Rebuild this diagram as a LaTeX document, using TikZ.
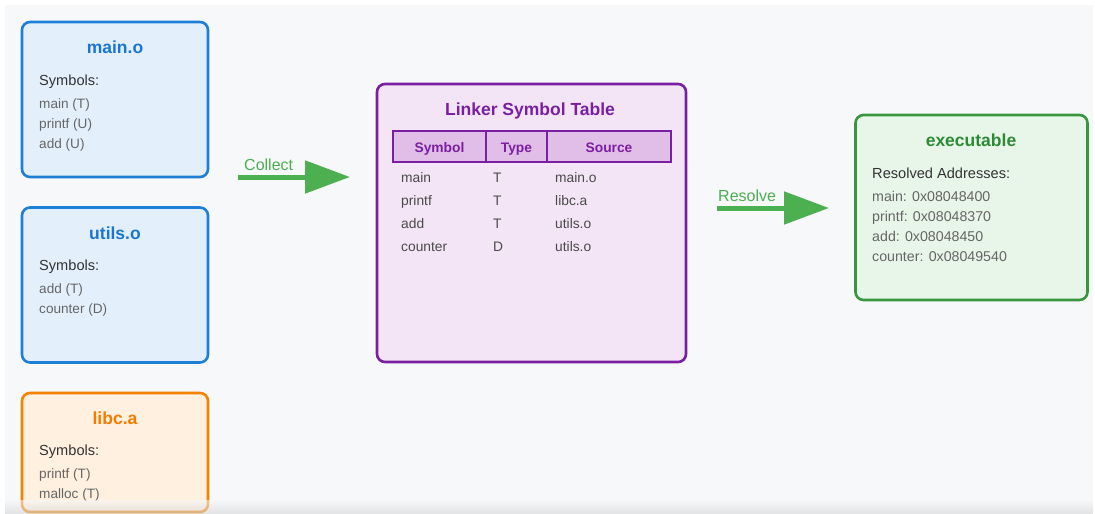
\documentclass[tikz,border=0pt]{standalone}
\usepackage{fontspec}
\setmainfont{Liberation Sans}
\usetikzlibrary{arrows.meta}

\definecolor{panel}{HTML}{F7F8FA}
\definecolor{blueline}{HTML}{1E7FD8}
\definecolor{bluefill}{HTML}{E3F0FC}
\definecolor{bluetext}{HTML}{1976D2}
\definecolor{orangeline}{HTML}{F58300}
\definecolor{orangefill}{HTML}{FFF0E0}
\definecolor{orangetext}{HTML}{F57C00}
\definecolor{purpleline}{HTML}{7B1FA2}
\definecolor{purplefill}{HTML}{F3E5F5}
\definecolor{purplehead}{HTML}{E1BEE7}
\definecolor{purpletext}{HTML}{7B1FA2}
\definecolor{greenline}{HTML}{38963E}
\definecolor{greenfill}{HTML}{E8F5E9}
\definecolor{greentext}{HTML}{2E8B35}
\definecolor{arrowgreen}{HTML}{4CAF50}
\definecolor{labeltext}{HTML}{333333}
\definecolor{itemtext}{HTML}{666666}
\definecolor{rowtext}{HTML}{4A4A4A}

\tikzset{
  card/.style={draw, line width=2.6pt, rounded corners=8pt, inner sep=0pt},
  txt/.style={inner sep=0pt},
  boxtitle/.style={txt, anchor=base, font=\fontsize{17.5}{20}\selectfont\bfseries},
  seclabel/.style={txt, anchor=base west, text=labeltext, font=\fontsize{14.6}{17}\selectfont},
  itemlabel/.style={txt, anchor=base west, text=itemtext, font=\fontsize{13.6}{16}\selectfont},
  addrlabel/.style={txt, anchor=base west, text=itemtext, font=\fontsize{14.2}{16}\selectfont},
  rowlabel/.style={txt, anchor=base west, text=rowtext, font=\fontsize{13.8}{16}\selectfont},
  headcell/.style={draw=purpleline, fill=purplehead, line width=1.4pt, inner sep=0pt, minimum height=31pt},
  headlabel/.style={txt, anchor=base, text=purpletext, font=\fontsize{13.8}{16}\selectfont\bfseries},
  flow/.style={draw=arrowgreen, line width=5pt, -{Triangle[length=45pt,width=32pt]}},
  flowlabel/.style={txt, anchor=base west, text=arrowgreen, font=\fontsize{16}{18}\selectfont},
}

\begin{document}
\begin{tikzpicture}[x=1pt, y=-1pt]
\useasboundingbox (0,0) rectangle (1095,514);
% page panel
\fill[panel] (5,5) rectangle (1093,514);

% ---------- input object files ----------
\node[card, draw=blueline, fill=bluefill, minimum width=186pt, minimum height=155pt] (main) at (115,99.5) {};
\node[boxtitle, text=bluetext] (main-title) at (115,53.5) {main.o};
\node[seclabel] (main-sym) at (39,85) {Symbols:};
\node[itemlabel] (main-s1) at (39,108) {main (T)};
\node[itemlabel] (main-s2) at (39,128) {printf (U)};
\node[itemlabel] (main-s3) at (39,148) {add (U)};

\node[card, draw=blueline, fill=bluefill, minimum width=186pt, minimum height=155pt] (utils) at (115,285) {};
\node[boxtitle, text=bluetext] (utils-title) at (115,239) {utils.o};
\node[seclabel] (utils-sym) at (39,270) {Symbols:};
\node[itemlabel] (utils-s1) at (39,293) {add (T)};
\node[itemlabel] (utils-s2) at (39,313) {counter (D)};

\node[card, draw=orangeline, fill=orangefill, minimum width=186pt, minimum height=119pt] (libc) at (115,452.5) {};
\node[boxtitle, text=orangetext] (libc-title) at (115,424) {libc.a};
\node[seclabel] (libc-sym) at (39,455) {Symbols:};
\node[itemlabel] (libc-s1) at (39,478) {printf (T)};
\node[itemlabel] (libc-s2) at (39,498) {malloc (T)};

% ---------- linker symbol table ----------
\node[card, draw=purpleline, fill=purplefill, minimum width=309pt, minimum height=278pt] (table) at (531.5,223) {};
\node[boxtitle, text=purpletext] (table-title) at (530,115) {Linker Symbol Table};
\node[headcell, minimum width=93pt] (h-sym) at (439.5,146.5) {};
\node[headcell, minimum width=61pt] (h-type) at (516.5,146.5) {};
\node[headcell, minimum width=124pt] (h-src) at (609,146.5) {};
\node[headlabel] (h-sym-t) at (439.5,152) {Symbol};
\node[headlabel] (h-type-t) at (516.5,152) {Type};
\node[headlabel] (h-src-t) at (609,152) {Source};

\node[rowlabel] (r1a) at (401,182) {main};
\node[rowlabel] (r1b) at (493,182) {T};
\node[rowlabel] (r1c) at (555,182) {main.o};
\node[rowlabel] (r2a) at (401,205) {printf};
\node[rowlabel] (r2b) at (493,205) {T};
\node[rowlabel] (r2c) at (555,205) {libc.a};
\node[rowlabel] (r3a) at (401,228) {add};
\node[rowlabel] (r3b) at (493,228) {T};
\node[rowlabel] (r3c) at (555,228) {utils.o};
\node[rowlabel] (r4a) at (401,251) {counter};
\node[rowlabel] (r4b) at (493,251) {D};
\node[rowlabel] (r4c) at (555,251) {utils.o};

% ---------- output executable ----------
\node[card, draw=greenline, fill=greenfill, minimum width=232pt, minimum height=185pt] (exe) at (971.5,207.5) {};
\node[boxtitle, text=greentext] (exe-title) at (971,146) {executable};
\node[seclabel] (exe-sec) at (872,178) {Resolved Addresses:};
\node[addrlabel] (exe-a1) at (872,201) {main: 0x08048400};
\node[addrlabel] (exe-a2) at (872,221) {printf: 0x08048370};
\node[addrlabel] (exe-a3) at (872,241) {add: 0x08048450};
\node[addrlabel] (exe-a4) at (872,261) {counter: 0x08049540};

% ---------- flow arrows ----------
\coordinate (collect-from) at (238,177);
\coordinate (collect-to) at (350,177);
\draw[flow] (collect-from) -- (collect-to);
\node[flowlabel] (collect-label) at (244,170) {Collect};

\coordinate (resolve-from) at (717,208);
\coordinate (resolve-to) at (829,208);
\draw[flow] (resolve-from) -- (resolve-to);
\node[flowlabel] (resolve-label) at (718,201) {Resolve};

% soft shadow along the lower edge
\shade[top color=panel, bottom color=black!18, opacity=0.55] (5,500) rectangle (1093,514);
\end{tikzpicture}
\end{document}
